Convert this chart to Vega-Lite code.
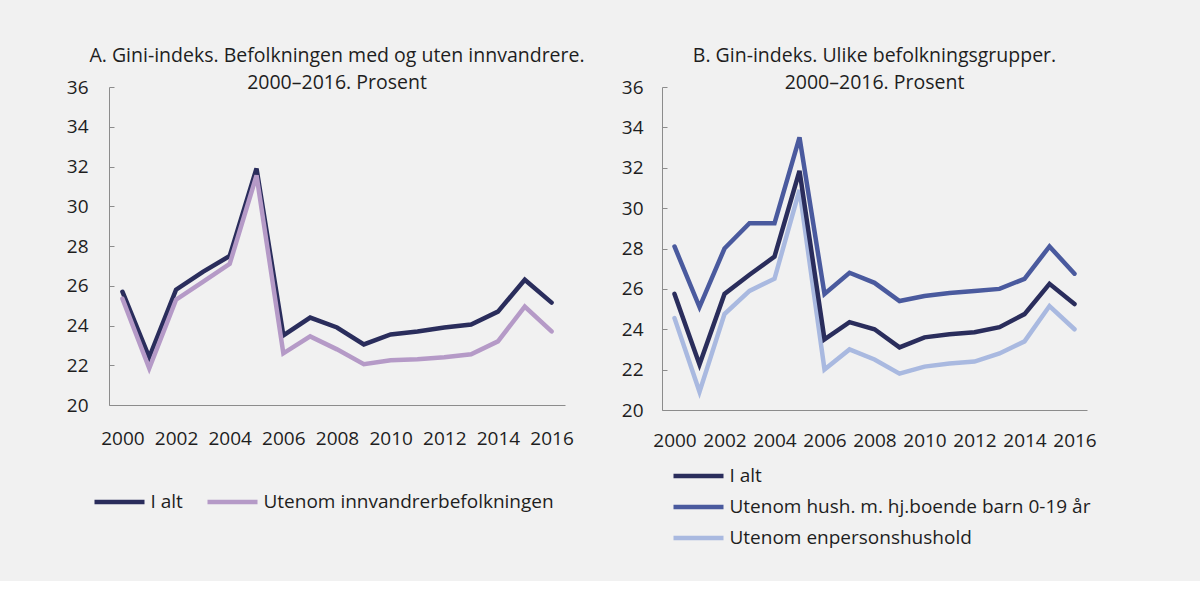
{
  "$schema": "https://vega.github.io/schema/vega-lite/v6.json",
  "background": "#f1f1f1",
  "padding": {"left": 66, "top": 45, "right": 103, "bottom": 33},
  "bounds": "flush",
  "spacing": 97,
  "config": {
    "font": "Open Sans",
    "view": {"stroke": null},
    "title": {"fontSize": 19.5, "fontWeight": "normal", "color": "#1e1e1e", "lineHeight": 27, "anchor": "middle", "offset": -15},
    "axis": {
      "labelFont": "Open Sans",
      "labelFontSize": 19,
      "labelColor": "#1e1e1e",
      "domainColor": "#8c8c8c",
      "tickColor": "#8c8c8c",
      "grid": false,
      "title": null
    },
    "legend": {
      "labelFont": "Open Sans",
      "labelFontSize": 19,
      "labelColor": "#1e1e1e",
      "labelLimit": 0,
      "title": null,
      "symbolType": "M-2,0L2,0",
      "symbolSize": 625,
      "symbolStrokeWidth": 5,
      "labelOffset": 16,
      "orient": "none"
    },
    "line": {"strokeWidth": 4.5, "strokeCap": "round"}
  },
  "datasets": {
    "a": [
      {"year": 2000, "serie": "I alt", "gini": 25.7},
      {"year": 2001, "serie": "I alt", "gini": 22.4},
      {"year": 2002, "serie": "I alt", "gini": 25.8},
      {"year": 2003, "serie": "I alt", "gini": 26.7},
      {"year": 2004, "serie": "I alt", "gini": 27.5},
      {"year": 2005, "serie": "I alt", "gini": 31.9},
      {"year": 2006, "serie": "I alt", "gini": 23.5},
      {"year": 2007, "serie": "I alt", "gini": 24.4},
      {"year": 2008, "serie": "I alt", "gini": 23.9},
      {"year": 2009, "serie": "I alt", "gini": 23.05},
      {"year": 2010, "serie": "I alt", "gini": 23.55},
      {"year": 2011, "serie": "I alt", "gini": 23.7},
      {"year": 2012, "serie": "I alt", "gini": 23.9},
      {"year": 2013, "serie": "I alt", "gini": 24.05},
      {"year": 2014, "serie": "I alt", "gini": 24.7},
      {"year": 2015, "serie": "I alt", "gini": 26.3},
      {"year": 2016, "serie": "I alt", "gini": 25.15},
      {"year": 2000, "serie": "Utenom innvandrerbefolkningen", "gini": 25.35},
      {"year": 2001, "serie": "Utenom innvandrerbefolkningen", "gini": 21.85},
      {"year": 2002, "serie": "Utenom innvandrerbefolkningen", "gini": 25.3},
      {"year": 2003, "serie": "Utenom innvandrerbefolkningen", "gini": 26.2},
      {"year": 2004, "serie": "Utenom innvandrerbefolkningen", "gini": 27.1},
      {"year": 2005, "serie": "Utenom innvandrerbefolkningen", "gini": 31.55},
      {"year": 2006, "serie": "Utenom innvandrerbefolkningen", "gini": 22.6},
      {"year": 2007, "serie": "Utenom innvandrerbefolkningen", "gini": 23.45},
      {"year": 2008, "serie": "Utenom innvandrerbefolkningen", "gini": 22.8},
      {"year": 2009, "serie": "Utenom innvandrerbefolkningen", "gini": 22.05},
      {"year": 2010, "serie": "Utenom innvandrerbefolkningen", "gini": 22.25},
      {"year": 2011, "serie": "Utenom innvandrerbefolkningen", "gini": 22.3},
      {"year": 2012, "serie": "Utenom innvandrerbefolkningen", "gini": 22.4},
      {"year": 2013, "serie": "Utenom innvandrerbefolkningen", "gini": 22.55},
      {"year": 2014, "serie": "Utenom innvandrerbefolkningen", "gini": 23.2},
      {"year": 2015, "serie": "Utenom innvandrerbefolkningen", "gini": 24.95},
      {"year": 2016, "serie": "Utenom innvandrerbefolkningen", "gini": 23.7}
    ],
    "b": [
      {"year": 2000, "serie": "Utenom hush. m. hj.boende barn 0-19 år", "gini": 28.1},
      {"year": 2001, "serie": "Utenom hush. m. hj.boende barn 0-19 år", "gini": 25.1},
      {"year": 2002, "serie": "Utenom hush. m. hj.boende barn 0-19 år", "gini": 28.0},
      {"year": 2003, "serie": "Utenom hush. m. hj.boende barn 0-19 år", "gini": 29.25},
      {"year": 2004, "serie": "Utenom hush. m. hj.boende barn 0-19 år", "gini": 29.25},
      {"year": 2005, "serie": "Utenom hush. m. hj.boende barn 0-19 år", "gini": 33.5},
      {"year": 2006, "serie": "Utenom hush. m. hj.boende barn 0-19 år", "gini": 25.75},
      {"year": 2007, "serie": "Utenom hush. m. hj.boende barn 0-19 år", "gini": 26.8},
      {"year": 2008, "serie": "Utenom hush. m. hj.boende barn 0-19 år", "gini": 26.3},
      {"year": 2009, "serie": "Utenom hush. m. hj.boende barn 0-19 år", "gini": 25.4},
      {"year": 2010, "serie": "Utenom hush. m. hj.boende barn 0-19 år", "gini": 25.65},
      {"year": 2011, "serie": "Utenom hush. m. hj.boende barn 0-19 år", "gini": 25.8},
      {"year": 2012, "serie": "Utenom hush. m. hj.boende barn 0-19 år", "gini": 25.9},
      {"year": 2013, "serie": "Utenom hush. m. hj.boende barn 0-19 år", "gini": 26.0},
      {"year": 2014, "serie": "Utenom hush. m. hj.boende barn 0-19 år", "gini": 26.5},
      {"year": 2015, "serie": "Utenom hush. m. hj.boende barn 0-19 år", "gini": 28.1},
      {"year": 2016, "serie": "Utenom hush. m. hj.boende barn 0-19 år", "gini": 26.75},
      {"year": 2000, "serie": "Utenom enpersonshushold", "gini": 24.55},
      {"year": 2001, "serie": "Utenom enpersonshushold", "gini": 20.9},
      {"year": 2002, "serie": "Utenom enpersonshushold", "gini": 24.75},
      {"year": 2003, "serie": "Utenom enpersonshushold", "gini": 25.9},
      {"year": 2004, "serie": "Utenom enpersonshushold", "gini": 26.5},
      {"year": 2005, "serie": "Utenom enpersonshushold", "gini": 30.9},
      {"year": 2006, "serie": "Utenom enpersonshushold", "gini": 22.0},
      {"year": 2007, "serie": "Utenom enpersonshushold", "gini": 23.0},
      {"year": 2008, "serie": "Utenom enpersonshushold", "gini": 22.5},
      {"year": 2009, "serie": "Utenom enpersonshushold", "gini": 21.8},
      {"year": 2010, "serie": "Utenom enpersonshushold", "gini": 22.15},
      {"year": 2011, "serie": "Utenom enpersonshushold", "gini": 22.3},
      {"year": 2012, "serie": "Utenom enpersonshushold", "gini": 22.4},
      {"year": 2013, "serie": "Utenom enpersonshushold", "gini": 22.8},
      {"year": 2014, "serie": "Utenom enpersonshushold", "gini": 23.4},
      {"year": 2015, "serie": "Utenom enpersonshushold", "gini": 25.15},
      {"year": 2016, "serie": "Utenom enpersonshushold", "gini": 24.0},
      {"year": 2000, "serie": "I alt", "gini": 25.75},
      {"year": 2001, "serie": "I alt", "gini": 22.25},
      {"year": 2002, "serie": "I alt", "gini": 25.75},
      {"year": 2003, "serie": "I alt", "gini": 26.7},
      {"year": 2004, "serie": "I alt", "gini": 27.6},
      {"year": 2005, "serie": "I alt", "gini": 31.85},
      {"year": 2006, "serie": "I alt", "gini": 23.5},
      {"year": 2007, "serie": "I alt", "gini": 24.35},
      {"year": 2008, "serie": "I alt", "gini": 24.0},
      {"year": 2009, "serie": "I alt", "gini": 23.1},
      {"year": 2010, "serie": "I alt", "gini": 23.6},
      {"year": 2011, "serie": "I alt", "gini": 23.75},
      {"year": 2012, "serie": "I alt", "gini": 23.85},
      {"year": 2013, "serie": "I alt", "gini": 24.1},
      {"year": 2014, "serie": "I alt", "gini": 24.75},
      {"year": 2015, "serie": "I alt", "gini": 26.25},
      {"year": 2016, "serie": "I alt", "gini": 25.25}
    ]
  },
  "resolve": {"scale": {"color": "independent", "x": "independent", "y": "independent"}, "legend": {"color": "independent"}},
  "hconcat": [
    {
      "title": {"text": ["A.  Gini-indeks. Befolkningen med og uten innvandrere.", "2000–2016. Prosent"]},
      "width": 456,
      "height": 318,
      "data": {"name": "a"},
      "mark": {"type": "line"},
      "encoding": {
        "x": {
          "field": "year", "type": "ordinal",
          "scale": {"type": "point", "padding": 0.5},
          "axis": {"values": [2000, 2002, 2004, 2006, 2008, 2010, 2012, 2014, 2016], "labelAngle": 0, "ticks": false, "labelPadding": 24}
        },
        "y": {
          "field": "gini", "type": "quantitative",
          "scale": {"domain": [20, 36], "nice": false, "zero": false},
          "axis": {"values": [20, 22, 24, 26, 28, 30, 32, 34, 36], "tickSize": -5, "labelPadding": 26}
        },
        "color": {
          "field": "serie", "type": "nominal",
          "scale": {"domain": ["I alt", "Utenom innvandrerbefolkningen"], "range": ["#2a2d5c", "#b59ac7"]},
          "legend": {"direction": "horizontal", "legendX": -4.5, "legendY": 400, "columnPadding": 15}
        },
        "order": {"field": "serie"}
      }
    },
    {
      "title": {"text": ["B. Gin-indeks. Ulike befolkningsgrupper.", "2000–2016. Prosent"]},
      "width": 425,
      "height": 323,
      "data": {"name": "b"},
      "mark": {"type": "line"},
      "encoding": {
        "x": {
          "field": "year", "type": "ordinal",
          "scale": {"type": "point", "padding": 0.5},
          "axis": {"values": [2000, 2002, 2004, 2006, 2008, 2010, 2012, 2014, 2016], "labelAngle": 0, "ticks": false, "labelPadding": 21}
        },
        "y": {
          "field": "gini", "type": "quantitative",
          "scale": {"domain": [20, 36], "nice": false, "zero": false},
          "axis": {"values": [20, 22, 24, 26, 28, 30, 32, 34, 36], "tickSize": -5, "labelPadding": 24}
        },
        "color": {
          "field": "serie", "type": "nominal",
          "scale": {"domain": ["I alt", "Utenom hush. m. hj.boende barn 0-19 år", "Utenom enpersonshushold"], "range": ["#2a2d5c", "#4a5a9e", "#a9b9e0"]},
          "legend": {"direction": "vertical", "legendX": 21.5, "legendY": 374, "rowPadding": 6}
        }
      }
    }
  ]
}
